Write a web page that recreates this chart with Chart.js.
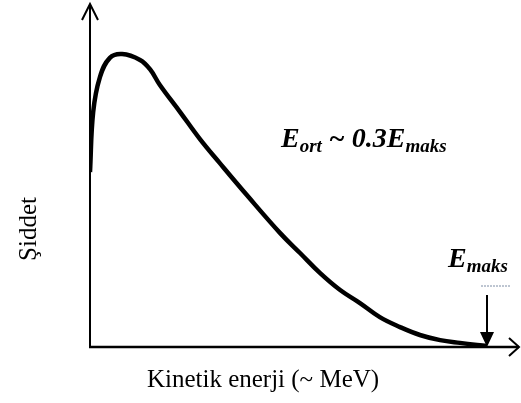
<!DOCTYPE html>
<html>
<head>
<meta charset="utf-8">
<script src="https://cdn.jsdelivr.net/npm/chart.js@4"></script>
<style>
  html, body { margin: 0; padding: 0; background: #fff; }
  #wrap { width: 521px; height: 403px; }
</style>
</head>
<body>
<div id="wrap"><canvas id="spectrum" width="521" height="403"></canvas></div>
<script>
// Beta spectrum shape (E / Emax, relative intensity)
const energy = [0, 0.008, 0.025, 0.05, 0.081, 0.126, 0.151, 0.176, 0.227, 0.277, 0.327, 0.395,
  0.479, 0.529, 0.579, 0.63, 0.68, 0.73, 0.781, 0.831, 0.882, 0.932, 1.0];
const intensity = [0.51, 0.685, 0.787, 0.843, 0.854, 0.837, 0.81, 0.764, 0.685, 0.606, 0.536, 0.443,
  0.332, 0.274, 0.216, 0.166, 0.128, 0.087, 0.058, 0.035, 0.02, 0.012, 0.003];
const xLabel = "Kinetik enerji (~ MeV)";
const yLabel = "Şiddet";
const eMax = 1.0;

const points = energy.map((e, i) => ({ x: e, y: intensity[i] }));

// text with subscript, drawn left to right
function drawSub(ctx, x, y, parts) {
  let cx = x;
  parts.forEach(p => {
    ctx.font = p.font;
    ctx.fillText(p.t, cx, y + (p.dy || 0));
    cx += ctx.measureText(p.t).width;
  });
}

const decor = {
  id: "decor",
  afterDraw(chart) {
    const ctx = chart.ctx;
    const xs = chart.scales.x, ys = chart.scales.y;
    const x0 = xs.getPixelForValue(0), y0 = ys.getPixelForValue(0);
    const xEnd = xs.right, yTop = ys.top;
    ctx.save();
    ctx.strokeStyle = "#000";
    ctx.fillStyle = "#000";
    ctx.lineCap = "butt";

    // y axis + open arrow
    ctx.lineWidth = 2;
    ctx.beginPath();
    ctx.moveTo(x0, y0 + 1);
    ctx.lineTo(x0, yTop);
    ctx.stroke();
    ctx.beginPath();
    ctx.moveTo(x0 - 8, yTop + 16);
    ctx.lineTo(x0, yTop);
    ctx.lineTo(x0 + 8, yTop + 16);
    ctx.stroke();

    // x axis + open arrow
    ctx.lineWidth = 2.5;
    ctx.beginPath();
    ctx.moveTo(x0 - 1, y0);
    ctx.lineTo(xEnd, y0);
    ctx.stroke();
    ctx.lineWidth = 2;
    ctx.beginPath();
    ctx.moveTo(xEnd - 10, y0 - 9);
    ctx.lineTo(xEnd, y0);
    ctx.lineTo(xEnd - 10, y0 + 9);
    ctx.stroke();

    // Emax marker arrow
    const xm = xs.getPixelForValue(eMax);
    ctx.lineWidth = 2;
    ctx.beginPath();
    ctx.moveTo(xm, y0 - 52);
    ctx.lineTo(xm, y0 - 12);
    ctx.stroke();
    ctx.beginPath();
    ctx.moveTo(xm - 7, y0 - 15);
    ctx.lineTo(xm + 7, y0 - 15);
    ctx.lineTo(xm, y0);
    ctx.closePath();
    ctx.fill();

    // small dashed mark above it
    ctx.strokeStyle = "#7d8ca4";
    ctx.lineWidth = 1;
    ctx.setLineDash([2, 1]);
    ctx.beginPath();
    ctx.moveTo(xm - 6, y0 - 61);
    ctx.lineTo(xm + 24, y0 - 61);
    ctx.stroke();
    ctx.setLineDash([]);

    // annotations
    ctx.fillStyle = "#000";
    ctx.textBaseline = "alphabetic";
    ctx.textAlign = "left";
    const big = "bold italic 28px 'Liberation Serif'";
    const small = "bold italic 19px 'Liberation Serif'";
    drawSub(ctx, 281, 147, [
      { t: "E", font: big }, { t: "ort", font: small, dy: 5 },
      { t: " ~ 0.3", font: big }, { t: "E", font: big }, { t: "maks", font: small, dy: 5 }
    ]);
    drawSub(ctx, 448, 267, [
      { t: "E", font: big }, { t: "maks", font: small, dy: 5 }
    ]);

    // axis titles
    ctx.font = "25px 'Liberation Serif'";
    ctx.textAlign = "center";
    ctx.fillText(xLabel, 263, 387);
    ctx.translate(36, 229);
    ctx.rotate(-Math.PI / 2);
    ctx.fillText(yLabel, 0, 0);
    ctx.restore();
  }
};

new Chart(document.getElementById("spectrum"), {
  type: "line",
  data: {
    datasets: [{
      data: points,
      borderColor: "#000",
      borderWidth: 4.5,
      pointRadius: 0,
      fill: false,
      tension: 0.4,
      borderCapStyle: "butt",
      borderJoinStyle: "round"
    }]
  },
  options: {
    responsive: false,
    animation: false,
    layout: { padding: { left: 90, right: 2, top: 4, bottom: 56 } },
    plugins: { legend: { display: false }, tooltip: { enabled: false } },
    scales: {
      x: { type: "linear", display: false, min: 0, max: 1.0806 },
      y: { display: false, min: 0, max: 1 }
    }
  },
  plugins: [decor]
});
</script>
</body>
</html>
